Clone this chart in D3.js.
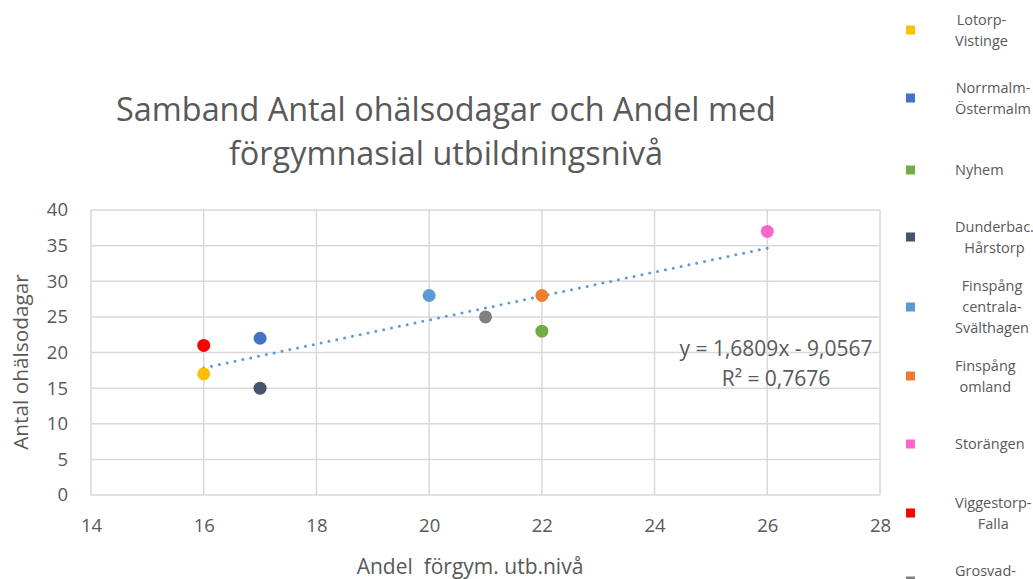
<!DOCTYPE html>
<html>
<head>
<meta charset="utf-8">
<script src="https://cdn.jsdelivr.net/npm/d3@7"></script>
<style>
  body { margin: 0; background: #fff; }
  text { font-family: "Open Sans", sans-serif; fill: #595959; white-space: pre; }
</style>
</head>
<body>
<div id="chart"></div>
<script>
// areas and their values
const areas = ["Lotorp-Vistinge", "Norrmalm-Östermalm", "Nyhem", "Dunderbac. Hårstorp",
  "Finspång centrala-Svälthagen", "Finspång omland", "Storängen", "Viggestorp-Falla", "Grosvad-"];
const andelForgym = [16, 17, 22, 17, 20, 22, 26, 16, 21];
const ohalsodagar = [17, 22, 23, 15, 28, 28, 37, 21, 25];
const colors = ["#FFC000", "#4472C4", "#70AD47", "#44546A", "#5B9BD5", "#ED7D31", "#FF66CC", "#FF0000", "#7F7F7F"];
const legendLines = [["Lotorp-", "Vistinge"], ["Norrmalm-", "Östermalm"], ["Nyhem"], ["Dunderbac.", "Hårstorp"],
  ["Finspång", "centrala-", "Svälthagen"], ["Finspång", "omland"], ["Storängen"], ["Viggestorp-", "Falla"], ["Grosvad-"]];
const xTicks = [14, 16, 18, 20, 22, 24, 26, 28];
const yTicks = [0, 5, 10, 15, 20, 25, 30, 35, 40];
const trend = {slope: 1.6809, intercept: -9.0567, r2: "0,7676"};

let dim = {width: 1033, height: 579};
let svg = d3.select('#chart').append('svg').attr('width', dim.width).attr('height', dim.height);

let x = d3.scaleLinear().domain([14, 28]).range([91, 880]);
let y = d3.scaleLinear().domain([0, 40]).range([495, 210]);

// grid
svg.append('g').selectAll('line').data(yTicks).enter().append('line')
  .attr('x1', x(14)).attr('x2', x(28)).attr('y1', d => y(d)).attr('y2', d => y(d))
  .attr('stroke', '#d9d9d9').attr('stroke-width', 1.5);
svg.append('g').selectAll('line').data(xTicks).enter().append('line')
  .attr('y1', y(0)).attr('y2', y(40)).attr('x1', d => x(d)).attr('x2', d => x(d))
  .attr('stroke', '#d9d9d9').attr('stroke-width', 1.5);

// axes labels
let axisX = d3.axisBottom(x).tickValues(xTicks).tickSize(0).tickPadding(24);
let axisY = d3.axisLeft(y).tickValues(yTicks).tickSize(0).tickPadding(23);
svg.append('g').attr('transform', `translate(0,${y(0)})`).call(axisX)
  .call(g => g.select('.domain').remove())
  .selectAll('text').style('font-size', '18.5px').attr('fill', '#595959');
svg.append('g').attr('transform', `translate(${x(14)},0)`).call(axisY)
  .call(g => g.select('.domain').remove())
  .selectAll('text').style('font-size', '18.5px').attr('fill', '#595959');

// trend line
let tx = [d3.min(andelForgym), d3.max(andelForgym)];
svg.append('line')
  .attr('x1', x(tx[0])).attr('y1', y(trend.slope * tx[0] + trend.intercept))
  .attr('x2', x(tx[1])).attr('y2', y(trend.slope * tx[1] + trend.intercept))
  .attr('stroke', '#5B9BD5').attr('stroke-width', 3)
  .attr('stroke-linecap', 'round').attr('stroke-dasharray', '0 8');

// points
svg.append('g').selectAll('circle').data(areas).enter().append('circle')
  .attr('cx', (d, i) => x(andelForgym[i]))
  .attr('cy', (d, i) => y(ohalsodagar[i]))
  .attr('r', 6.5)
  .attr('fill', (d, i) => colors[i]);

// equation
let eq = svg.append('text').attr('text-anchor', 'middle').style('font-size', '21px');
eq.append('tspan').attr('x', 776).attr('y', 356).text('y = 1,6809x - 9,0567');
eq.append('tspan').attr('x', 776).attr('y', 386).text('R² = ' + trend.r2);

// title
let title = svg.append('text').attr('text-anchor', 'middle').style('font-size', '32.4px');
title.append('tspan').attr('x', 446).attr('y', 121).text('Samband Antal ohälsodagar och Andel med');
title.append('tspan').attr('x', 446).attr('y', 165).text('förgymnasial utbildningsnivå');

// axis titles
svg.append('text').attr('text-anchor', 'middle').style('font-size', '21px')
  .attr('x', 470).attr('y', 574).text('Andel  förgym. utb.nivå');
svg.append('text').attr('text-anchor', 'middle').style('font-size', '20.8px')
  .attr('transform', 'translate(28,362) rotate(-90)').text('Antal ohälsodagar');

// legend - lines centred on the widest line, block starts at x=955
const legendY = [30, 98, 170, 237, 307, 376, 444, 513, 581];
let lg = svg.append('g').selectAll('g').data(areas).enter().append('g')
  .attr('transform', (d, i) => `translate(0,${legendY[i]})`);
lg.append('rect').attr('x', 906).attr('y', -4.5).attr('width', 9).attr('height', 9)
  .attr('fill', (d, i) => colors[i]);
lg.append('text').attr('text-anchor', 'middle').style('font-size', '14.5px')
  .each(function(d, i) {
    let lines = legendLines[i];
    let t = d3.select(this);
    let off = i === areas.length - 1 ? -5 : 5;
    let spans = lines.map((l, j) => t.append('tspan')
        .attr('y', (j - (lines.length - 1) / 2) * 21 + off).text(l));
    let maxW = d3.max(spans, s => s.node().getComputedTextLength());
    spans.forEach(s => s.attr('x', 955 + maxW / 2));
  });
</script>
</body>
</html>
